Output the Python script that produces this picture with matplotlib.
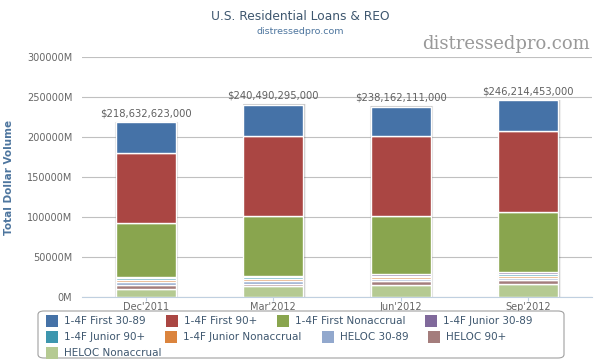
"""U.S. Residential Loans & REO, stacked quarterly bars (Highcharts look-alike)."""

import matplotlib
matplotlib.use("Agg")
import matplotlib.pyplot as plt
import matplotlib.patches as mpatches
import numpy as np

plt.rcParams["font.family"] = ["DejaVu Sans"]

# values in millions of dollars
quarters = ["Dec'2011", "Mar'2012", "Jun'2012", "Sep'2012"]
first_30_89 = [38632.623, 38740.295, 37287.111, 38714.453]
first_90 = [88250, 100875, 100000, 101250]
first_nonaccrual = [66750, 75275, 72375, 75250]
junior_30_89 = [2000, 1500, 2000, 2500]
junior_90 = [2000, 1500, 2000, 2000]
junior_nonaccrual = [2000, 3300, 2000, 3000]
heloc_30_89 = [4000, 2900, 2500, 3000]
heloc_90 = [5000, 3400, 5500, 4500]
heloc_nonaccrual = [10000, 13000, 14500, 16000]

# bottom of the stack first
series = [
    ("HELOC Nonaccrual", heloc_nonaccrual, "#B5CA92"),
    ("HELOC 90+", heloc_90, "#A47D7C"),
    ("HELOC 30-89", heloc_30_89, "#92A8CD"),
    ("1-4F Junior Nonaccrual", junior_nonaccrual, "#DB843D"),
    ("1-4F Junior 90+", junior_90, "#3D96AE"),
    ("1-4F Junior 30-89", junior_30_89, "#80699B"),
    ("1-4F First Nonaccrual", first_nonaccrual, "#89A54E"),
    ("1-4F First 90+", first_90, "#AA4643"),
    ("1-4F First 30-89", first_30_89, "#4572A7"),
]
legend_rows = [
    ["1-4F First 30-89", "1-4F First 90+", "1-4F First Nonaccrual", "1-4F Junior 30-89"],
    ["1-4F Junior 90+", "1-4F Junior Nonaccrual", "HELOC 30-89", "HELOC 90+"],
    ["HELOC Nonaccrual"],
]

W, H = 600, 360
fig = plt.figure(figsize=(W / 100, H / 100), dpi=100)
ax = fig.add_axes([82 / W, 1 - 296.7 / H, 510 / W, (296.7 - 57.3) / H])

x = np.arange(len(quarters))
width = 0.47
totals = np.sum([s[1] for s in series], axis=0)

# soft shadow behind each column
for dx, a in ((0.012, 0.05), (0.008, 0.08), (0.004, 0.10)):
    ax.bar(x + dx, totals, width, bottom=-600, color="none",
           edgecolor=(0, 0, 0, a), linewidth=1.5, zorder=2)

bottom = np.zeros(len(quarters))
for name, vals, color in series:
    ax.bar(x, vals, width, bottom=bottom, color=color, edgecolor="white",
           linewidth=1.0, zorder=3)
    bottom += np.array(vals)

for xi, t in zip(x, totals):
    ax.annotate(f"${t * 1e6:,.0f}", (xi, t), xytext=(0, 3), textcoords="offset points",
                ha="center", va="bottom", fontsize=7.2, color="#606060")

ax.set_xlim(-0.5, len(quarters) - 0.5)
ax.set_ylim(0, 300000)
yt = np.arange(0, 300001, 50000)
ax.set_yticks(yt)
ax.set_yticklabels([f"{int(v)}M" for v in yt], fontsize=7, color="#666666")
ax.set_xticks(x)
ax.set_xticklabels(quarters, fontsize=7, color="#666666")
ax.tick_params(axis="y", length=0, pad=7)
ax.tick_params(axis="x", length=3, color="#C0D0E0", pad=0.5)
ax.grid(axis="y", color="#C0C0C0", linewidth=0.8, zorder=0)
for s in ("top", "right", "left"):
    ax.spines[s].set_visible(False)
ax.spines["bottom"].set_color("#C0D0E0")
ax.spines["bottom"].set_zorder(4)
ax.set_ylabel("Total Dollar Volume", fontsize=7.5, color="#4D759E",
              fontweight="bold", labelpad=9)

fig.text(300 / W, 1 - 17 / H, "U.S. Residential Loans & REO", ha="center", va="center",
         fontsize=8.8, color="#3E576F")
fig.text(300 / W, 1 - 31 / H, "distressedpro.com", ha="center", va="center",
         fontsize=6.8, color="#4D759E")
fig.text(590 / W, 1 - 44 / H, "distressedpro.com", ha="right", va="center",
         fontsize=13, color="#999999", family=["DejaVu Serif"])

# legend box, items flowed left to right like Highcharts
fig.patches.append(mpatches.FancyBboxPatch(
    (38 / W, 1 - 358 / H), 526 / W, 47 / H, boxstyle="round,pad=0,rounding_size=0.01",
    transform=fig.transFigure, facecolor="white", edgecolor="#A0A0A0", linewidth=0.8))
colors = {name: color for name, _, color in series}
fig.canvas.draw()
renderer = fig.canvas.get_renderer()
for r, row in enumerate(legend_rows):
    px = 46
    py = 321 + r * 16
    for name in row:
        fig.patches.append(mpatches.Rectangle(
            (px / W, 1 - (py + 6) / H), 12 / W, 12 / H, transform=fig.transFigure,
            facecolor=colors[name], edgecolor="none"))
        t = fig.text((px + 18) / W, 1 - py / H, name, ha="left", va="center",
                     fontsize=7.5, color="#3E576F")
        tw = t.get_window_extent(renderer).width
        px += 18 + tw + 20

fig.savefig("out.png", dpi=100)
